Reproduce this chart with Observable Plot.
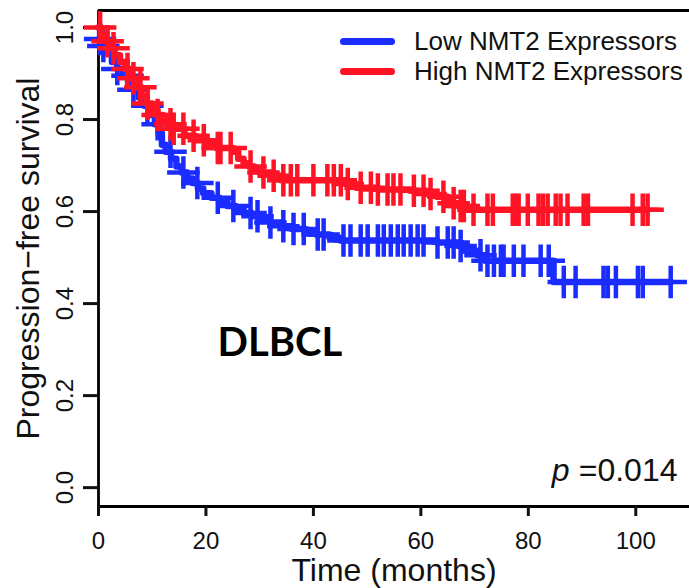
<!DOCTYPE html>
<html><head><meta charset="utf-8">
<script src="https://cdn.jsdelivr.net/npm/d3@7"></script>
<script src="https://cdn.jsdelivr.net/npm/@observablehq/plot@0.6"></script>
<style>
body{margin:0;background:#fff;}
#wrap{position:relative;width:689px;height:588px;overflow:hidden;background:#fff;}
#legend{position:absolute;left:340px;top:26px;font-family:"Liberation Sans",Arial,sans-serif;font-size:26px;color:#111;}
#legend .row{display:flex;align-items:center;height:30px;}
#legend .sw{width:55px;height:7px;border-radius:4px;margin-right:19px;}
g[aria-label="x-axis label"], g[aria-label="y-axis label"]{font-size:32px;}
</style></head><body><div id="wrap"></div>
<script>
// Series names and colours
const seriesNames = ["Low NMT2 Expressors", "High NMT2 Expressors"];
const seriesColors = ["#1a2cff", "#ff1426"];

// Low NMT2 (blue) Kaplan–Meier steps: event times (months) and survival after each step
const lowTimes = [0, 0.3, 0.8, 1.5, 2.5, 3.5, 4.5, 5.5, 6.5, 7.5, 8.5, 9.5, 10.5, 11.2, 11.8, 12.5, 13.5, 14.5, 15.5, 16.5, 17.5, 18.5, 19.5, 21, 22.5, 24, 25.5, 27, 28.5, 30, 32, 34, 36, 38.5, 40.5, 43, 45, 63, 67, 68, 70.5, 72, 84.7];
const lowSurv  = [1.0, 0.975, 0.96, 0.945, 0.925, 0.91, 0.895, 0.88, 0.865, 0.848, 0.83, 0.81, 0.79, 0.77, 0.745, 0.73, 0.715, 0.698, 0.685, 0.672, 0.662, 0.65, 0.64, 0.63, 0.622, 0.612, 0.605, 0.597, 0.59, 0.583, 0.576, 0.568, 0.562, 0.556, 0.55, 0.543, 0.537, 0.533, 0.525, 0.515, 0.505, 0.493, 0.447];
// Low NMT2 censoring times
const lowCensor = [0.3, 0.9, 3.5, 5.4, 6.5, 9.1, 11, 13.4, 15.8, 18.4, 22.2, 25.1, 28.3, 29.6, 32, 34.4, 36.3, 38.2, 40.8, 41.9, 45.6, 46.9, 48.8, 50.1, 52, 53.1, 54.4, 55.7, 56.8, 58.1, 59.4, 60.5, 63.1, 65, 66.1, 67.4, 71.1, 72.4, 73.6, 74.9, 75.4, 77.3, 79.1, 82.3, 83.8, 86.6, 88.8, 94, 94.8, 96.3, 100.4, 101.3, 106.5];

// High NMT2 (red) steps
const highTimes = [0, 0.5, 1.2, 2, 3, 4, 5, 6, 7, 8, 9, 10, 11, 12, 13, 14, 16, 18, 20, 22, 25, 26, 27, 28, 29, 30, 32, 34, 46, 48, 52, 58, 61, 63, 65, 66, 67, 68.5];
const highSurv  = [1.0, 0.985, 0.97, 0.955, 0.94, 0.925, 0.91, 0.89, 0.87, 0.85, 0.835, 0.82, 0.81, 0.80, 0.79, 0.78, 0.765, 0.755, 0.745, 0.738, 0.73, 0.715, 0.705, 0.698, 0.69, 0.685, 0.678, 0.668, 0.66, 0.652, 0.648, 0.645, 0.638, 0.632, 0.625, 0.618, 0.612, 0.604];
// High NMT2 censoring times
const highCensor = [0.3, 1.7, 2.8, 5.4, 6.5, 7.8, 9.1, 11, 13.4, 14, 15.8, 17.7, 19.6, 22.2, 22.7, 24.6, 28.3, 30.7, 32.6, 34.4, 35.8, 37, 40, 42.6, 43.8, 45.1, 46.4, 48.8, 50.7, 52, 53.8, 54.9, 56.2, 58.7, 60.5, 61.8, 64.2, 66.1, 67.4, 68, 69.8, 72.4, 73.4, 77.1, 77.7, 78.2, 79.9, 81.9, 82.7, 83.6, 85.1, 86, 87.3, 90.3, 91.1, 99.4, 101.3, 102.2];

// Axis ticks and labels
const xTicks = [0, 20, 40, 60, 80, 100];
const yTicks = [0, 0.2, 0.4, 0.6, 0.8, 1.0];
const xLabel = "Time (months)";
const yLabel = "Progression\u2212free survival";
const xDomain = [0, 110];
const yDomain = [-0.041, 1.037];
const panelLabel = "DLBCL";
const pLabel = "=0.014";

function survAt(times, surv, t) {
  const i = d3.bisectRight(times, t) - 1;
  return surv[Math.max(0, i)];
}
function stepData(times, surv, cens) {
  const pts = times.map((t, i) => ({t, s: surv[i]}));
  const end = d3.max(cens);
  pts.push({t: end, s: survAt(times, surv, end)});
  return pts;
}
function censData(times, surv, cens) {
  return cens.map(t => ({t, s: survAt(times, surv, t)}));
}

const lowLine = stepData(lowTimes, lowSurv, lowCensor);
const highLine = stepData(highTimes, highSurv, highCensor);
const lowCens = censData(lowTimes, lowSurv, lowCensor);
const highCens = censData(highTimes, highSurv, highCensor);

const mL = 98, mT = 10;
const chart = Plot.plot({
  width: 689, height: 588,
  marginLeft: mL, marginTop: mT, marginRight: 0, marginBottom: 82,
  x: {domain: xDomain},
  y: {domain: yDomain},
  style: {fontFamily: "'Liberation Sans', Arial, sans-serif", background: "white", color: "#111"},
  marks: [
    Plot.ruleX([xDomain[0]], {stroke: "black", strokeWidth: 2.8}),
    Plot.ruleY(yDomain, {stroke: "black", strokeWidth: 2.8}),
    Plot.axisX({ticks: xTicks, tickSize: 10, tickPadding: 15, fontSize: 24, strokeWidth: 3,
      label: xLabel, labelAnchor: "center", labelArrow: "none", labelOffset: 74}),
    Plot.axisY({ticks: yTicks, tickFormat: d3.format(".1f"), tickSize: 15, tickRotate: -90, tickPadding: 11,
      fontSize: 24, strokeWidth: 3, label: yLabel, labelAnchor: "center", labelArrow: "none", labelOffset: 82}),
    Plot.line(lowLine, {x: "t", y: "s", curve: "step-after", stroke: seriesColors[0], strokeWidth: 6.5}),
    Plot.dot(lowCens, {x: "t", y: "s", symbol: "plus", r: 10.5, fill: "none", stroke: seriesColors[0], strokeWidth: 4.5}),
    Plot.line(highLine, {x: "t", y: "s", curve: "step-after", stroke: seriesColors[1], strokeWidth: 6.5}),
    Plot.dot(highCens, {x: "t", y: "s", symbol: "plus", r: 10.5, fill: "none", stroke: seriesColors[1], strokeWidth: 4.5}),
    Plot.text([panelLabel], {frameAnchor: "top-left", dx: 217 - mL, dy: 355 - mT, textAnchor: "start", lineAnchor: "bottom",
      fontFamily: "Lato", fontWeight: "bold", fontSize: 40, fill: "black"}),
    Plot.text([pLabel], {frameAnchor: "top-left", dx: 677 - mL, dy: 480 - mT, textAnchor: "end", lineAnchor: "bottom",
      fontSize: 32, fill: "#111"}),
    Plot.text(["p"], {frameAnchor: "top-left", dx: 569 - mL, dy: 480 - mT, textAnchor: "end", lineAnchor: "bottom",
      fontSize: 32, fontStyle: "italic", fill: "#111"})
  ]
});
const wrap = document.getElementById("wrap");
wrap.appendChild(chart);

const legend = document.createElement("div");
legend.id = "legend";
seriesNames.forEach((name, i) => {
  const row = document.createElement("div");
  row.className = "row";
  const sw = document.createElement("div");
  sw.className = "sw";
  sw.style.background = seriesColors[i];
  const tx = document.createElement("span");
  tx.textContent = name;
  row.appendChild(sw); row.appendChild(tx);
  legend.appendChild(row);
});
wrap.appendChild(legend);
</script></body></html>
